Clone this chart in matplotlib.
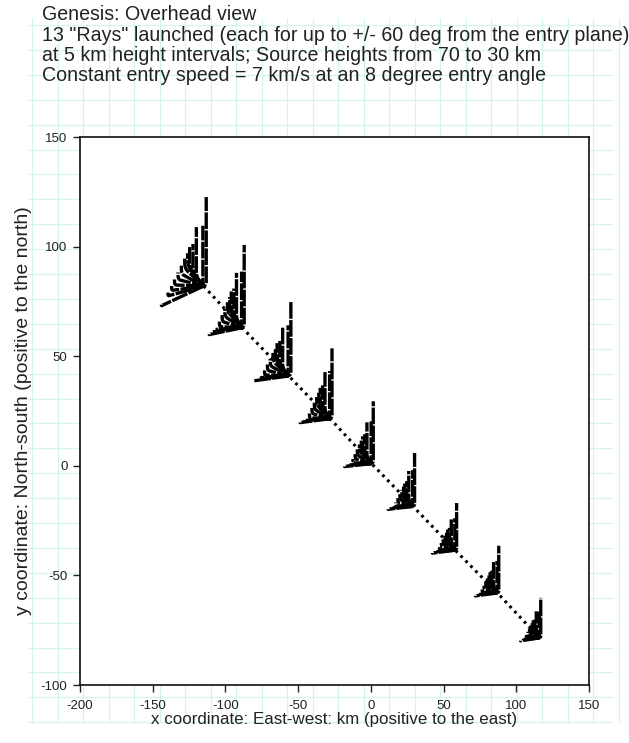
import matplotlib
matplotlib.use("Agg")
import matplotlib.pyplot as plt
import numpy as np

plt.rcParams['font.family'] = ['Liberation Sans', 'DejaVu Sans']
plt.rcParams['axes.unicode_minus'] = False

# Source points along the ground track (km), one per source height (70 ... 30 km)
source_heights = [70, 65, 60, 55, 50, 45, 40, 35, 30]
source_x = [-115.0, -88.5, -56.5, -28.0, 0.5, 29.0, 58.0, 87.0, 116.0]
source_y = [82.0, 63.0, 41.0, 21.5, 1.0, -18.5, -38.5, -58.0, -78.5]

# Footprint of the 13 rays for the highest source, offsets from the source in km:
# each ray leaves the source along its launch leg to a knee, then turns north to its tip.
ray_knee_x = [-29.0, -24.5, -22.0, -20.0, -17.6, -15.3, -13.0, -11.0, -9.6, -7.3, -5.0, -0.5, 1.8]
ray_knee_y = [-9.0, -4.5, -2.0, 0.5, 3.0, 5.5, 8.0, 9.0, 8.0, 6.0, 4.0, 2.0, 1.0]
ray_tip_y = [-8.5, -3.0, 0.0, 3.0, 6.2, 9.3, 12.5, 15.0, 17.8, 19.2, 26.9, 27.5, 40.6]

# Relative footprint size of each source (west, north and south extent)
west_scale = [1.00, 0.78, 0.83, 0.71, 0.64, 0.59, 0.54, 0.52, 0.45]
north_scale = [1.00, 0.93, 0.84, 0.79, 0.70, 0.60, 0.53, 0.53, 0.45]
south_scale = [1.00, 0.35, 0.25, 0.20, 0.15, 0.15, 0.15, 0.15, 0.15]

W, H, DPI = 629, 743, 100
fig = plt.figure(figsize=(W / DPI, H / DPI), dpi=DPI, facecolor='white')

# graph-paper backdrop
bg = fig.add_axes([0, 0, 1, 1], zorder=0)
bg.set_xlim(0, W)
bg.set_ylim(H, 0)
bg.axis('off')
grid_col = '#d6f4ef'
for gx in np.arange(32, 622, 25.5):
    bg.plot([gx, gx], [18, 722], color=grid_col, lw=0.9)
for gy in np.arange(25, 723, 24.9):
    bg.plot([28, 612], [gy, gy], color=grid_col, lw=0.9)

ax = fig.add_axes([80 / W, 1 - 685 / H, (589 - 80) / W, (685 - 137) / H], zorder=1)
ax.set_facecolor('white')
ax.set_xlim(-200, 150)
ax.set_ylim(-100, 150)
ax.set_xticks(np.arange(-200, 151, 50))
ax.set_yticks(np.arange(-100, 151, 50))
ax.tick_params(direction='out', length=5, width=1, labelsize=9.5, colors='#222222')
ax.tick_params(axis='x', pad=6)
ax.tick_params(axis='y', pad=4)
for s in ax.spines.values():
    s.set_linewidth(1.2)
    s.set_color('#111111')

# ground track of the entry
ax.plot(source_x, source_y, color='black', lw=2.2, ls=(0, (0.9, 1.4)), dash_capstyle='butt', zorder=2)


def ray_path(kx, ky, ty, r):
    """Source -> launch leg -> rounded knee -> northward leg."""
    d = np.hypot(kx, ky)
    up = max(ty - ky, 0.0)
    r = min(r, 0.45 * d, 0.6 * up) if up > 0 else 0.0
    if r <= 0 or d == 0:
        return np.array([0.0, kx, kx]), np.array([0.0, ky, max(ty, ky)])
    ax_, ay_ = kx - kx * r / d, ky - ky * r / d
    bx_, by_ = kx, ky + r
    t = np.linspace(0, 1, 10)
    qx = (1 - t) ** 2 * ax_ + 2 * (1 - t) * t * kx + t ** 2 * bx_
    qy = (1 - t) ** 2 * ay_ + 2 * (1 - t) * t * ky + t ** 2 * by_
    return np.concatenate([[0.0], qx, [kx]]), np.concatenate([[0.0], qy, [ty]])


# ray footprints (plotted as slightly broken strokes)
for sx, sy, ws, ns, ss in zip(source_x, source_y, west_scale, north_scale, south_scale):
    for k, (kx, ky, ty) in enumerate(zip(ray_knee_x, ray_knee_y, ray_tip_y)):
        sky = ky * (ns if ky >= 0 else ss)
        sty = ty * (ns if ty >= 0 else ss)
        xs, ys = ray_path(kx * ws, sky, sty, 3.5 * ns)
        ax.plot(sx + xs, sy + ys, color='black', lw=2.4,
                ls=((k * 1.7) % 5.4, (5, 0.4)),
                dash_capstyle='butt', solid_joinstyle='round', zorder=3)

ax.set_xlabel('x coordinate: East-west: km (positive to the east)', fontsize=12.2,
              color='#222222', labelpad=0)
ax.set_ylabel('y coordinate: North-south (positive to the north)', fontsize=14,
              color='#222222', labelpad=6)

title_lines = [
    'Genesis: Overhead view',
    '13 "Rays" launched (each for up to +/- 60 deg from the entry plane)',
    'at 5 km height intervals; Source heights from 70 to 30 km',
    'Constant entry speed = 7 km/s at an 8 degree entry angle',
]
for i, line in enumerate(title_lines):
    fig.text(42 / W, 1 - (15 + 20.3 * i) / H, line, fontsize=14.1, color='#222222',
             va='center', ha='left')

fig.savefig('out.png', dpi=DPI, facecolor='white')
